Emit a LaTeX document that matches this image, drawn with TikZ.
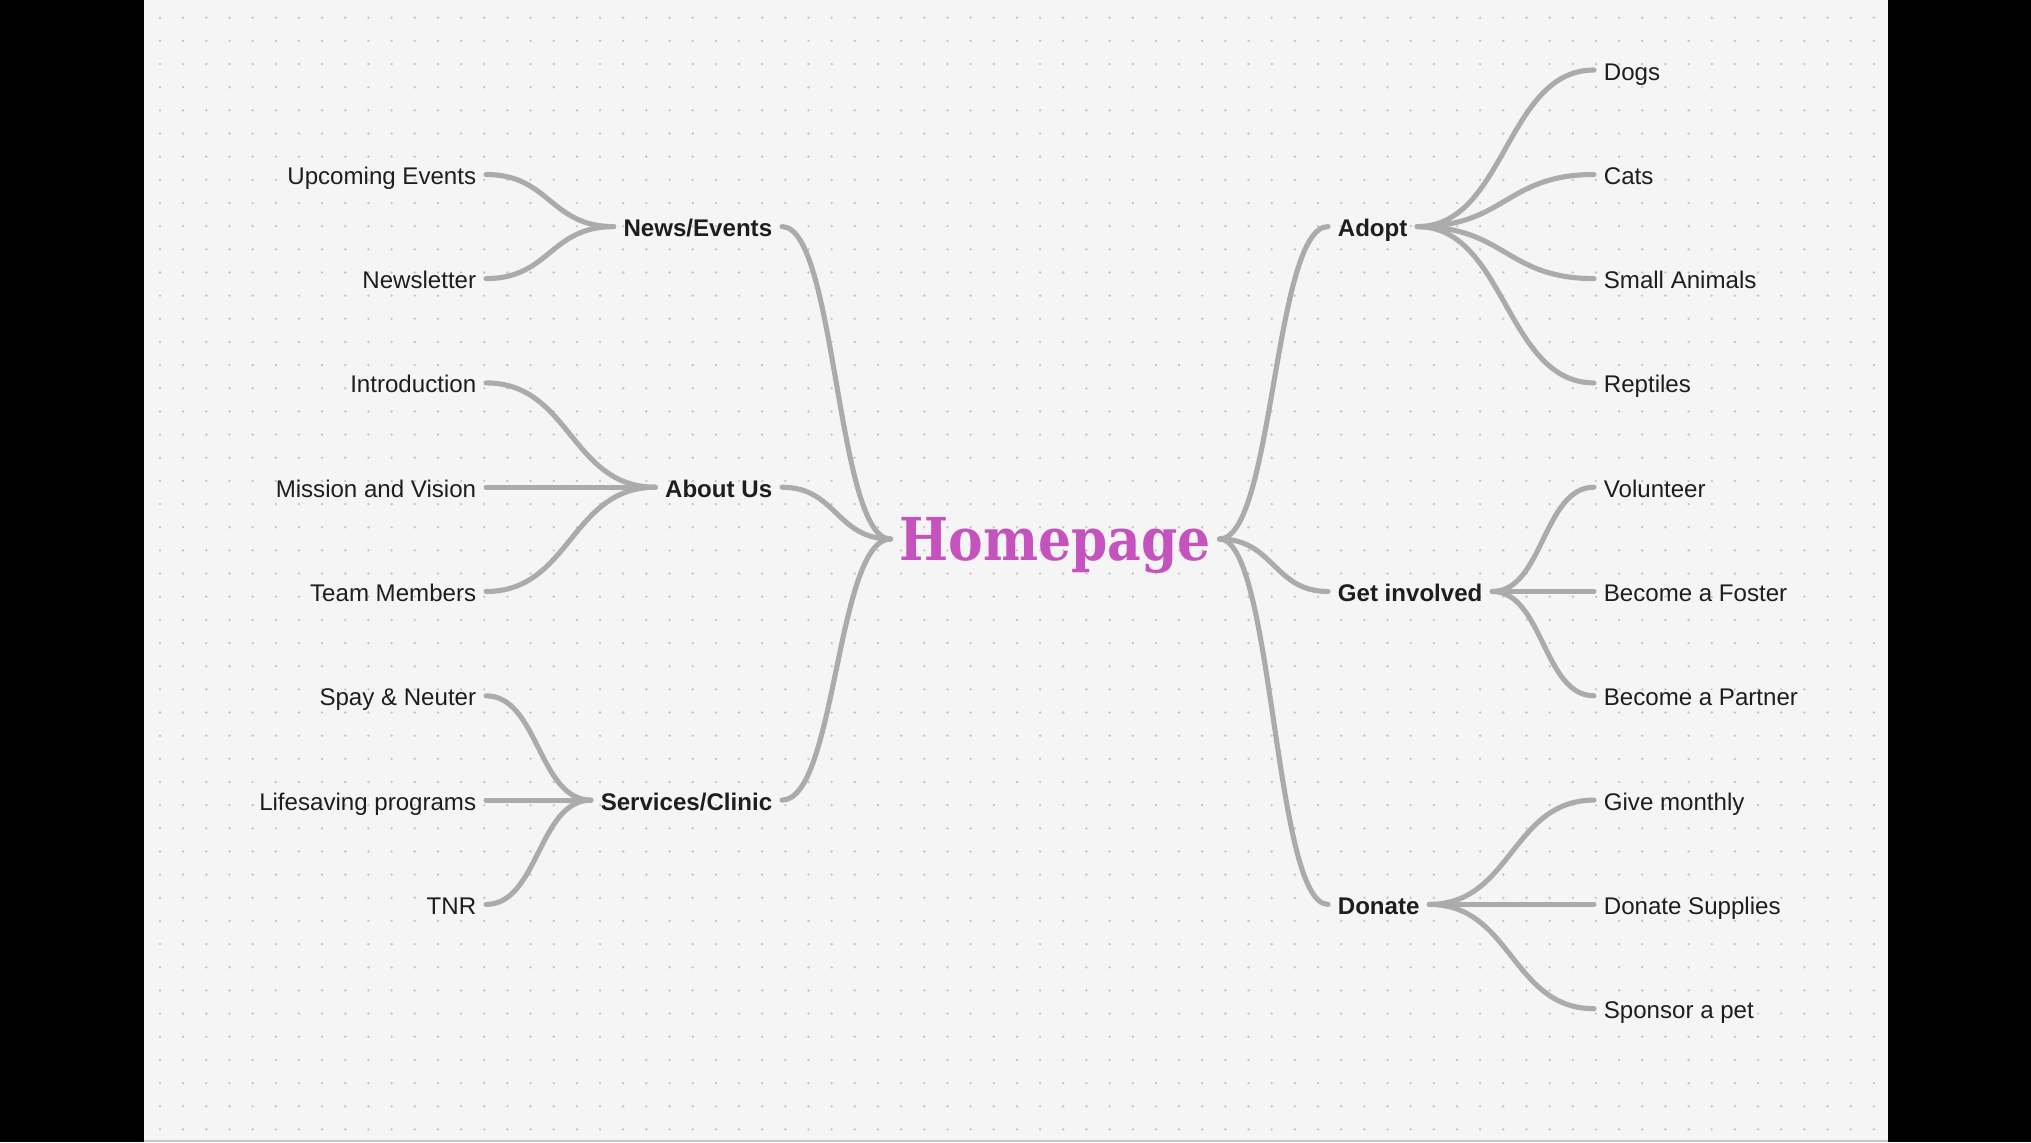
\documentclass[tikz,border=0pt]{standalone}
\usepackage{fontspec}
\setmainfont{Liberation Sans}
\newfontfamily\homefont[FakeStretch=0.88]{DejaVu Serif}
\usepackage{tikz}
\usetikzlibrary{calc}
\definecolor{linkgrey}{HTML}{ABABAB}
\definecolor{dotgrey}{HTML}{C6C6C6}
\definecolor{paper}{HTML}{F5F5F5}
\definecolor{ink}{HTML}{1E1E1E}
\definecolor{homepink}{HTML}{C553BD}
\tikzset{
  leaf/.style={text=ink, font=\fontsize{6.85}{8}\selectfont, inner xsep=2.6pt, inner ysep=0pt, text height=6pt, text depth=0.3pt},
  topic/.style={leaf, font=\fontsize{6.85}{8}\selectfont\bfseries},
  root/.style={text=homepink, font=\fontsize{16.8}{18}\selectfont\homefont\bfseries, inner xsep=2.3pt, inner ysep=0pt, text height=13pt, text depth=1pt},
  link/.style={draw=linkgrey, line width=1.45pt, line cap=round,
    to path={let \p1=(\tikztostart), \p2=(\tikztotarget) in
      .. controls ({(\x1+\x2)/2},\y1) and ({(\x1+\x2)/2},\y2) .. (\tikztotarget)}}
}

\begin{document}
\begin{tikzpicture}[x=0.01cm, y=-0.01cm]
        \useasboundingbox (0,0) rectangle (2031,1142);
        \fill [black] (0,0) rectangle (2031,1142);
        \fill [paper] (143.5,0) rectangle (1888,1142);
        \draw [dotgrey, line width=0.6pt] (143.5,1141) -- (1888,1141);
        % dot grid
        \foreach \i in {0,...,74}
          \foreach \j in {0,...,48}
            \fill [dotgrey] ({160+23.16*\i},{17.7+23.16*\j}) circle (0.38pt);

        \node (home) [root] at (1055,539) {Homepage};

        \node (news) [topic, anchor=east] at (782,226.6) {News/Events};
        \node (about) [topic, anchor=east] at (782,487.2) {About Us};
        \node (services) [topic, anchor=east] at (782,800.1) {Services/Clinic};
        \node (adopt) [topic, anchor=west] at (1328,226.6) {Adopt};
        \node (involved) [topic, anchor=west] at (1328,591.5) {Get involved};
        \node (donate) [topic, anchor=west] at (1328,904.4) {Donate};

        \node (upcoming) [leaf, anchor=east] at (486,174.5) {Upcoming Events};
        \node (newsletter) [leaf, anchor=east] at (486,278.6) {Newsletter};
        \node (intro) [leaf, anchor=east] at (486,382.9) {Introduction};
        \node (mission) [leaf, anchor=east] at (486,487.2) {Mission and Vision};
        \node (team) [leaf, anchor=east] at (486,591.5) {Team Members};
        \node (spay) [leaf, anchor=east] at (486,695.8) {Spay \& Neuter};
        \node (lifesaving) [leaf, anchor=east] at (486,800.1) {Lifesaving programs};
        \node (tnr) [leaf, anchor=east] at (486,904.4) {TNR};

        \node (dogs) [leaf, anchor=west] at (1594,70) {Dogs};
        \node (cats) [leaf, anchor=west] at (1594,174.5) {Cats};
        \node (small) [leaf, anchor=west] at (1594,278.6) {Small Animals};
        \node (reptiles) [leaf, anchor=west] at (1594,382.9) {Reptiles};
        \node (volunteer) [leaf, anchor=west] at (1594,487.2) {Volunteer};
        \node (foster) [leaf, anchor=west] at (1594,591.5) {Become a Foster};
        \node (partner) [leaf, anchor=west] at (1594,695.8) {Become a Partner};
        \node (monthly) [leaf, anchor=west] at (1594,800.1) {Give monthly};
        \node (supplies) [leaf, anchor=west] at (1594,904.4) {Donate Supplies};
        \node (sponsor) [leaf, anchor=west] at (1594,1008.7) {Sponsor a pet};

        \draw [link] (home.west) to (news.east);
        \draw [link] (home.west) to (about.east);
        \draw [link] (home.west) to (services.east);
        \draw [link] (home.east) to (adopt.west);
        \draw [link] (home.east) to (involved.west);
        \draw [link] (home.east) to (donate.west);

        \draw [link] (news.west) to (upcoming.east);
        \draw [link] (news.west) to (newsletter.east);
        \draw [link] (about.west) to (intro.east);
        \draw [link] (about.west) to (mission.east);
        \draw [link] (about.west) to (team.east);
        \draw [link] (services.west) to (spay.east);
        \draw [link] (services.west) to (lifesaving.east);
        \draw [link] (services.west) to (tnr.east);

        \draw [link] (adopt.east) to (dogs.west);
        \draw [link] (adopt.east) to (cats.west);
        \draw [link] (adopt.east) to (small.west);
        \draw [link] (adopt.east) to (reptiles.west);
        \draw [link] (involved.east) to (volunteer.west);
        \draw [link] (involved.east) to (foster.west);
        \draw [link] (involved.east) to (partner.west);
        \draw [link] (donate.east) to (monthly.west);
        \draw [link] (donate.east) to (supplies.west);
        \draw [link] (donate.east) to (sponsor.west);

        \end{tikzpicture}
\end{document}
